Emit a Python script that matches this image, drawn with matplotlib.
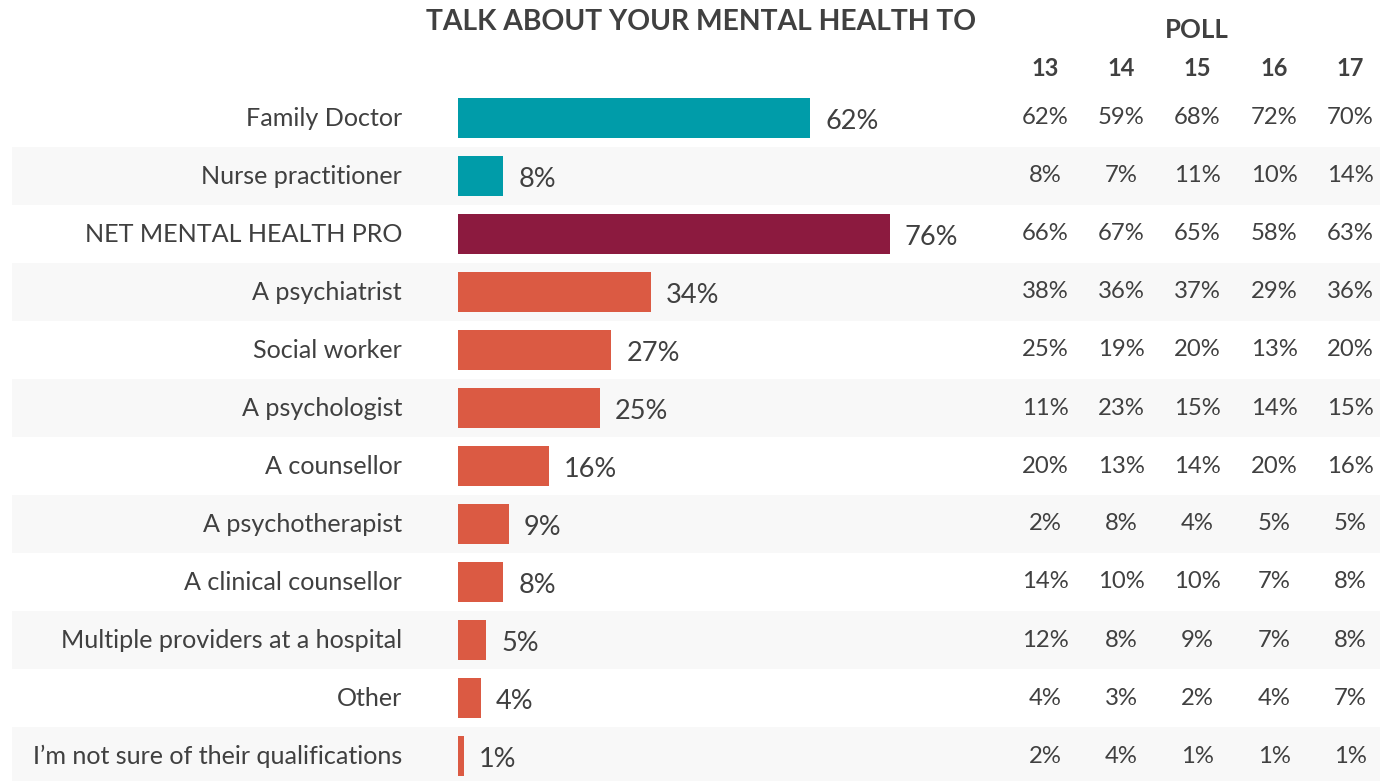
import matplotlib
matplotlib.use("Agg")
import matplotlib.pyplot as plt

categories = ["Family Doctor", "Nurse practitioner", "NET MENTAL HEALTH PRO",
              "A psychiatrist", "Social worker", "A psychologist", "A counsellor",
              "A psychotherapist", "A clinical counsellor",
              "Multiple providers at a hospital", "Other",
              "I\u2019m not sure of their qualifications"]
current = [62, 8, 76, 34, 27, 25, 16, 9, 8, 5, 4, 1]
poll_labels = ["13", "14", "15", "16", "17"]
poll_13 = [62, 8, 66, 38, 25, 11, 20, 2, 14, 12, 4, 2]
poll_14 = [59, 7, 67, 36, 19, 23, 13, 8, 10, 8, 3, 4]
poll_15 = [68, 11, 65, 37, 20, 15, 14, 4, 10, 9, 2, 1]
poll_16 = [72, 10, 58, 29, 13, 14, 20, 5, 7, 7, 4, 1]
poll_17 = [70, 14, 63, 36, 20, 15, 16, 5, 8, 8, 7, 1]
polls = [poll_13, poll_14, poll_15, poll_16, poll_17]

TEAL = "#009CA9"
MAROON = "#8C1A3F"
ORANGE = "#DB5A43"
colors = [TEAL, TEAL, MAROON] + [ORANGE] * 9
TXT = "#404040"
FONT = "Lato"

W, H = 1380, 781
fig = plt.figure(figsize=(W / 100, H / 100), dpi=100)
ax = fig.add_axes([0, 0, 1, 1])
ax.axis("off")

# layout (pixels)
x0 = 458.0
ppu = 5.68
row0 = 118.0
rowh = 58.0
ax.set_xlim(-x0 / ppu, (W - x0) / ppu)
ax.set_ylim((H - row0) / rowh, -row0 / rowh)

def px_to_x(px):
    return (px - x0) / ppu

def py_to_y(py):
    return (py - row0) / rowh

n = len(categories)
for i in range(n):
    if i % 2 == 1:
        ax.axhspan(i - 0.5, i + 0.5, xmin=12 / W, xmax=1.0, color="#F8F8F8", zorder=0, lw=0)

ax.barh(range(n), current, height=0.69, color=colors, left=0, zorder=2)

for i, (c, v) in enumerate(zip(categories, current)):
    ax.text(px_to_x(402), i, c, ha="right", va="center", fontsize=18.1,
            color=TXT, family=FONT)
    ax.text(v + 15 / ppu, i + 0.06, f"{v}%", ha="left", va="center",
            fontsize=19.5, color=TXT, family=FONT)

col_px = [1045, 1121, 1197, 1274, 1350]
for cx, lab, vals in zip(col_px, poll_labels, polls):
    ax.text(px_to_x(cx), py_to_y(68), lab, ha="center", va="center",
            fontsize=17, fontweight="bold", color=TXT, family=FONT)
    for i, v in enumerate(vals):
        ax.text(px_to_x(cx), i, f"{v}%", ha="center", va="center",
                fontsize=17.2, color=TXT, family=FONT)

ax.text(px_to_x(1197), py_to_y(30), "POLL", ha="center", va="center",
        fontsize=18.5, fontweight="bold", color=TXT, family=FONT)
ax.text(px_to_x(701), py_to_y(22), "TALK ABOUT YOUR MENTAL HEALTH TO",
        ha="center", va="center", fontsize=20.3, fontweight="bold",
        color=TXT, family=FONT)

fig.savefig("out.png", dpi=100)
